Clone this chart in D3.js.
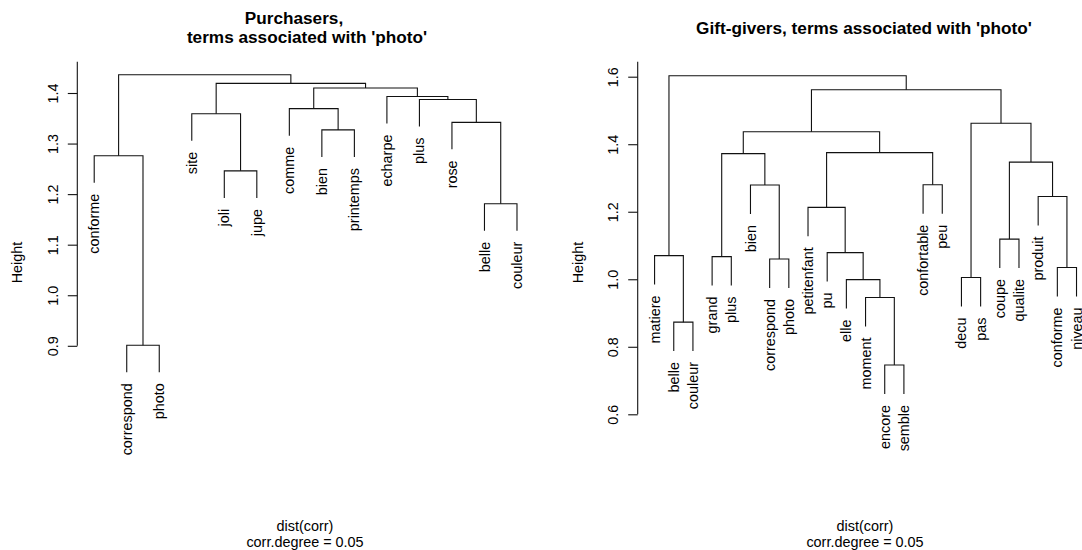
<!DOCTYPE html>
<html><head><meta charset="utf-8">
<script src="https://cdn.jsdelivr.net/npm/d3@7"></script>
<style>
body{margin:0;background:#fff}
svg{display:block}
text{font-family:"Liberation Sans",Arial,sans-serif;fill:#000}
</style>
</head><body>
<svg id="chart" width="1082" height="550"></svg>
<script>
// ---------- Panel 1: Purchasers ----------
const leaves1 = ["conforme","correspond","photo","site","joli","jupe","comme","bien","printemps","echarpe","plus","rose","belle","couleur"];
// merge pairs (negative = leaf position, positive = earlier merge step), R hclust style
const merges1 = [[-2,-3],[-13,-14],[-5,-6],[-1,1],[-8,-9],[-12,2],[-4,3],[-7,5],[-11,6],[-10,9],[8,10],[7,11],[4,12]];
const heights1 = [0.901,1.181,1.246,1.276,1.327,1.342,1.359,1.369,1.387,1.393,1.410,1.419,1.436];
const ticks1 = [0.9,1.0,1.1,1.2,1.3,1.4];
const title1 = ["Purchasers,","terms associated with 'photo'"];

// ---------- Panel 2: Gift-givers ----------
const leaves2 = ["matiere","belle","couleur","grand","plus","bien","correspond","photo","petitenfant","pu","elle","moment","encore","semble","confortable","peu","decu","pas","coupe","qualite","produit","conforme","niveau"];
const merges2 = [[-13,-14],[-2,-3],[-12,1],[-11,3],[-17,-18],[-22,-23],[-7,-8],[-4,-5],[-1,2],[-10,4],[-19,-20],[-9,10],[-21,6],[-6,7],[-15,-16],[11,13],[8,14],[12,15],[17,18],[5,16],[19,20],[9,21]];
const heights2 = [0.746,0.873,0.946,0.999,1.005,1.035,1.060,1.067,1.070,1.079,1.119,1.213,1.245,1.279,1.280,1.347,1.372,1.375,1.437,1.462,1.5615,1.603];
const ticks2 = [0.6,0.8,1.0,1.2,1.4,1.6];
const title2 = ["Gift-givers, terms associated with 'photo'"];

const xLabelLines = ["dist(corr)","corr.degree = 0.05"];

const svg = d3.select("#chart");

function drawPanel(cfg) {
  const g = svg.append("g");
  const n = cfg.leaves.length;
  const pad = 0.04 * (n - 1);
  const x = d3.scaleLinear().domain([1 - pad, n + pad]).range([cfg.left, cfg.right]);
  const y = d3.scaleLinear().domain([cfg.ticks[0], cfg.ticks[cfg.ticks.length - 1]]).range(cfg.yRange);
  const hang = 0.1 * (d3.max(cfg.heights) - d3.min(cfg.heights));

  const nodeX = [];
  const segs = [];
  const leafEnds = [];
  cfg.merges.forEach((m, i) => {
    const h = cfg.heights[i];
    const pts = m.map(c => c < 0 ? {x: -c, y: h - hang, leaf: -c} : {x: nodeX[c - 1], y: cfg.heights[c - 1]});
    nodeX[i] = (pts[0].x + pts[1].x) / 2;
    pts.forEach(p => { if (p.leaf) leafEnds.push({i: p.leaf, y: p.y}); });
    segs.push({pts, h});
  });

  const line = d3.line();
  g.selectAll("path.link").data(segs).join("path")
    .attr("class", "link")
    .attr("fill", "none")
    .attr("stroke", "#111")
    .attr("stroke-width", 1.1)
    .attr("d", s => line([
      [x(s.pts[0].x), y(s.pts[0].y)],
      [x(s.pts[0].x), y(s.h)],
      [x(s.pts[1].x), y(s.h)],
      [x(s.pts[1].x), y(s.pts[1].y)]
    ]));

  g.selectAll("text.leaf").data(leafEnds).join("text")
    .attr("class", "leaf")
    .attr("font-size", 14.4)
    .attr("text-anchor", "end")
    .attr("dy", "0.35em")
    .attr("transform", d => `translate(${x(d.i)},${y(d.y) + 11}) rotate(-90)`)
    .text(d => cfg.leaves[d.i - 1]);

  // y axis
  const axis = d3.axisLeft(y).tickValues(cfg.ticks).tickSize(9.5).tickFormat(d3.format(".1f"));
  const ax = g.append("g").attr("transform", `translate(${cfg.left},0)`).call(axis);
  ax.attr("font-size", null).attr("font-family", null);
  ax.select(".domain").remove();
  ax.append("line")
    .attr("x1", 0).attr("x2", 0)
    .attr("y1", y(cfg.ticks[0])).attr("y2", cfg.top)
    .attr("stroke", "#111").attr("stroke-width", 1.1);
  ax.selectAll(".tick line").attr("stroke", "#111").attr("stroke-width", 1.1);
  ax.selectAll(".tick text")
    .attr("x", 0).attr("y", 0).attr("dy", 0)
    .attr("font-size", 14.4)
    .attr("text-anchor", "middle")
    .attr("transform", "translate(-19.4,0) rotate(-90)");

  g.append("text")
    .attr("font-size", 14.4)
    .attr("text-anchor", "middle")
    .attr("transform", `translate(${cfg.left - 55},${(cfg.top + cfg.bottom) / 2}) rotate(-90)`)
    .text("Height");

  cfg.title.forEach((t, i) => {
    g.append("text")
      .attr("x", cfg.titleX[i]).attr("y", cfg.titleY + i * 19)
      .attr("font-size", 17.2).attr("font-weight", "bold")
      .attr("text-anchor", "middle")
      .text(t);
  });
  xLabelLines.forEach((t, i) => {
    g.append("text")
      .attr("x", cfg.subX).attr("y", 531 + i * 16)
      .attr("font-size", 14.4)
      .attr("text-anchor", "middle")
      .text(t);
  });
}

drawPanel({
  leaves: leaves1, merges: merges1, heights: heights1, ticks: ticks1, title: title1,
  left: 77.3, right: 533.9, top: 61.7, bottom: 463.3, yRange: [345.8, 93],
  titleX: [294, 307], titleY: 24, subX: 305
});
drawPanel({
  leaves: leaves2, merges: merges2, heights: heights2, ticks: ticks2, title: title2,
  left: 637.7, right: 1093.4, top: 61.7, bottom: 463.3, yRange: [414.3, 76.7],
  titleX: [864], titleY: 34, subX: 865
});
</script>
</body></html>
